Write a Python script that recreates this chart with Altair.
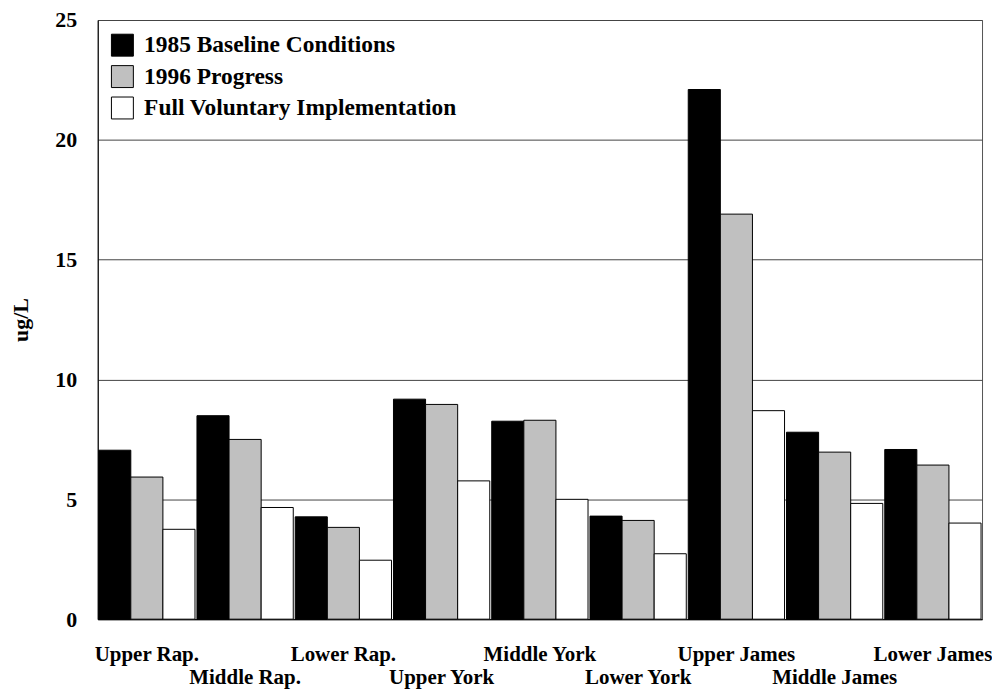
import altair as alt
import pandas as pd

regions = ["Upper Rap.", "Middle Rap.", "Lower Rap.", "Upper York", "Middle York",
           "Lower York", "Upper James", "Middle James", "Lower James"]
series = ["1985 Baseline Conditions", "1996 Progress", "Full Voluntary Implementation"]
baseline_1985 = [7.05, 8.49, 4.27, 9.18, 8.26, 4.30, 22.1, 7.80, 7.08]
progress_1996 = [5.93, 7.50, 3.83, 8.96, 8.30, 4.12, 16.9, 6.97, 6.43]
full_voluntary = [3.75, 4.66, 2.46, 5.77, 5.00, 2.73, 8.70, 4.83, 4.01]
y_ticks = [0, 5, 10, 15, 20, 25]
second_row = ["Middle Rap.", "Upper York", "Lower York", "Middle James"]

rows = []
for s, vals in zip(series, [baseline_1985, progress_1996, full_voluntary]):
    for r, v in zip(regions, vals):
        rows.append({"region": r, "series": s, "value": v})
df = pd.DataFrame(rows)

FONT = "Liberation Serif"
second_js = "[" + ",".join("'" + s + "'" for s in second_row) + "]"

chart = alt.Chart(df).mark_bar(stroke="black", strokeWidth=1).encode(
    x=alt.X("region:N", sort=regions, title=None,
            scale=alt.Scale(paddingInner=0.02, paddingOuter=0.01),
            axis=alt.Axis(labelAngle=0, ticks=False, tickSize=0, domain=True, domainColor="black",
                          labelFont=FONT, labelFontSize=21, labelFontWeight="bold",
                          labelColor="black", labelPadding=24, labelLineHeight=24,
                          labelBound=False, labelOverlap=False,
                          labelExpr="indexof(" + second_js + ", datum.value) >= 0 ? ['', datum.label] : datum.label")),
    xOffset=alt.XOffset("series:N", sort=series),
    y=alt.Y("value:Q", title="ug/L",
            scale=alt.Scale(domain=[0, 25], nice=False),
            axis=alt.Axis(values=y_ticks, grid=True, gridColor="#444", gridWidth=1,
                          ticks=False, tickSize=0, domain=True, domainColor="black",
                          labelFont=FONT, labelFontSize=22, labelFontWeight="bold",
                          labelColor="black", labelPadding=21,
                          titleFont=FONT, titleFontSize=22, titleFontWeight="bold",
                          titleColor="black", titlePadding=22)),
    color=alt.Color("series:N", sort=series, title=None,
                    scale=alt.Scale(domain=series, range=["#000000", "#c0c0c0", "#ffffff"]),
                    legend=alt.Legend(orient="none", legendX=13, legendY=13.5,
                                      symbolType="square", symbolSize=484,
                                      symbolStrokeColor="black", symbolStrokeWidth=1,
                                      symbolOpacity=1,
                                      labelFont=FONT, labelFontSize=23.5, labelFontWeight="bold",
                                      labelColor="black", labelOffset=10, rowPadding=4.5,
                                      padding=0, labelLimit=600)),
).properties(
    width=887, height=601,
    autosize=alt.AutoSizeParams(type="none"),
    padding={"left": 90, "top": 11, "right": 10, "bottom": 70},
).configure_view(stroke="#555", strokeWidth=1)

chart.save("out.html", embed_options={"renderer": "svg", "actions": False})
